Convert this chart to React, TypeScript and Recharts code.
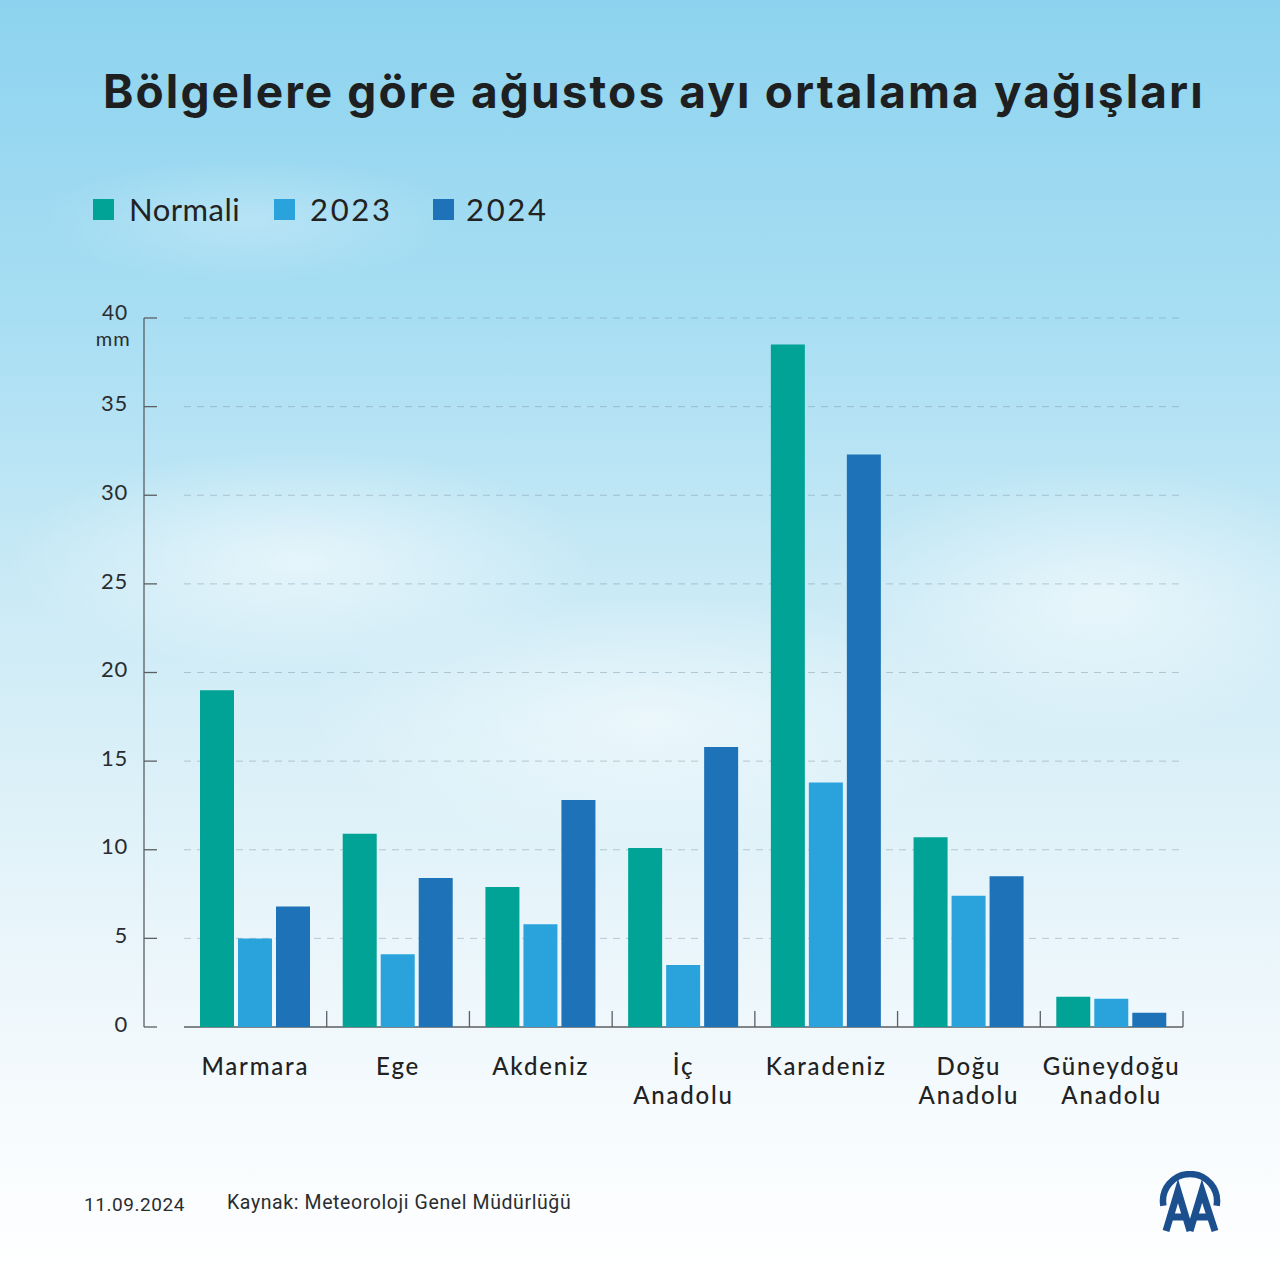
import React from "react";
import { Bar, BarChart, CartesianGrid, XAxis, YAxis } from "recharts";

const categories = [
  "Marmara",
  "Ege",
  "Akdeniz",
  "İç Anadolu",
  "Karadeniz",
  "Doğu Anadolu",
  "Güneydoğu Anadolu",
];
const normali = [19.0, 10.9, 7.9, 10.1, 38.5, 10.7, 1.7];
const y2023 = [5.0, 4.1, 5.8, 3.5, 13.8, 7.4, 1.6];
const y2024 = [6.8, 8.4, 12.8, 15.8, 32.3, 8.5, 0.8];
const yTicks = [0, 5, 10, 15, 20, 25, 30, 35, 40];

const series = [
  { key: "normali", name: "Normali", color: "#00A396" },
  { key: "y2023", name: "2023", color: "#2AA3DD" },
  { key: "y2024", name: "2024", color: "#1E72B8" },
];
const legendLeft = [93, 274, 433];

const data = categories.map((name, i) => ({
  name,
  normali: normali[i],
  y2023: y2023[i],
  y2024: y2024[i],
}));

const FONT = "Lato, 'Open Sans', sans-serif";
const PAD_LEFT = 40;

function YTick(props: any) {
  const { x, y, payload } = props;
  return (
    <g>
      <line x1={x} x2={x + 13} y1={y} y2={y} stroke="#5a5f63" strokeWidth={1.3} />
      <text
        x={x - 16}
        y={payload.value === 40 ? y - 5 : y - 3}
        dy="0.35em"
        textAnchor="end"
        fontSize={payload.value === 40 ? 21 : 22}
        letterSpacing={0.8}
        fill="#2a2d30"
        fontFamily={FONT}
      >
        {payload.value}
      </text>
      {payload.value === 40 && (
        <text
          x={x - 13}
          y={y + 21}
          dy="0.35em"
          textAnchor="end"
          fontSize={20}
          letterSpacing={1.2}
          fill="#2a2d30"
          fontFamily={FONT}
        >
          mm
        </text>
      )}
    </g>
  );
}

function XTick(props: any) {
  const { x, y, payload, width } = props;
  const band = ((width ?? 1039) - PAD_LEFT) / categories.length;
  const lines = String(payload.value).split(" ");
  return (
    <g>
      <line
        x1={x + band / 2}
        x2={x + band / 2}
        y1={y}
        y2={y - 16}
        stroke="#5a5f63"
        strokeWidth={1.3}
      />
      {lines.map((l, i) => (
        <text
          key={i}
          x={x}
          y={y + 40 + i * 29}
          dy="0.35em"
          textAnchor="middle"
          fontSize={24}
          letterSpacing={1.8}
          fontWeight={500}
          fill="#222"
          fontFamily={FONT}
        >
          {l}
        </text>
      ))}
    </g>
  );
}

function GridLine(props: any) {
  const { x1, x2, y1, y2, index, key } = props;
  const isBase = index === 0 || Math.abs(y1 - 1027) < 2;
  if (isBase) {
    return (
      <line
        key={key}
        x1={x1 + PAD_LEFT}
        x2={x2}
        y1={y1}
        y2={y2}
        stroke="#5a5f63"
        strokeWidth={1.3}
      />
    );
  }
  return (
    <line
      key={key}
      x1={x1 + PAD_LEFT}
      x2={x2 - 3}
      y1={y1}
      y2={y2}
      stroke="rgba(110,135,150,0.4)"
      strokeWidth={1}
      strokeDasharray="7 6"
    />
  );
}

function Logo() {
  const c = "#1B4F8E";
  return (
    <svg width={64} height={62} style={{ position: "absolute", left: 1159, top: 1171 }}>
      <path
        d="M 4.4,34.7 A 27 27 0 1 1 57.6,34.7"
        fill="none"
        stroke={c}
        strokeWidth={6.5}
      />
      <path
        d="M 7,60 L 19,20 L 31,60 M 12,46 L 26,46"
        fill="none"
        stroke={c}
        strokeWidth={7}
        strokeLinejoin="miter"
      />
      <path
        d="M 31,60 L 43,20 L 56,60 M 36,46 L 50,46"
        fill="none"
        stroke={c}
        strokeWidth={7}
        strokeLinejoin="miter"
      />
    </svg>
  );
}

export default function App() {
  return (
    <div
      style={{
        position: "absolute",
        left: 0,
        top: 0,
        width: 1280,
        height: 1280,
        overflow: "hidden",
        fontFamily: FONT,
        background:
          "radial-gradient(ellipse 420px 160px at 300px 560px, rgba(255,255,255,0.55), rgba(255,255,255,0) 70%)," +
          "radial-gradient(ellipse 380px 200px at 1100px 600px, rgba(255,255,255,0.55), rgba(255,255,255,0) 70%)," +
          "radial-gradient(ellipse 500px 180px at 650px 720px, rgba(255,255,255,0.5), rgba(255,255,255,0) 70%)," +
          "radial-gradient(ellipse 300px 90px at 250px 220px, rgba(255,255,255,0.25), rgba(255,255,255,0) 70%)," +
          "linear-gradient(180deg, #8dd3ef 0%, #a8def3 25%, #cdebf6 48%, #e6f4fa 70%, #f7fbfd 88%, #ffffff 100%)",
      }}
    >
      <div
        style={{
          position: "absolute",
          top: 63,
          left: 103,
          fontSize: 46,
          fontWeight: 700,
          color: "#1e1f21",
          fontFamily: "Inter, sans-serif",
          letterSpacing: 2.1,
          whiteSpace: "nowrap",
        }}
      >
        Bölgelere göre ağustos ayı ortalama yağışları
      </div>

      {series.map((s, i) => (
        <div
          key={s.key}
          style={{
            position: "absolute",
            top: 190,
            left: legendLeft[i],
            display: "flex",
            alignItems: "center",
          }}
        >
          <div
            style={{
              width: 21,
              height: 21,
              background: s.color,
              marginRight: i === 2 ? 12 : 15,
            }}
          />
          <span
            style={{
              fontSize: 31,
              color: "#222",
              letterSpacing: i === 0 ? 0.5 : 2.7,
            }}
          >
            {s.name}
          </span>
        </div>
      ))}

      <div style={{ position: "absolute", left: 0, top: 0 }}>
        <BarChart
          width={1280}
          height={1140}
          data={data}
          margin={{ top: 318, right: 97, bottom: 33, left: 0 }}
          barSize={34}
          barGap={4}
        >
          <CartesianGrid vertical={false} horizontal={(p: any) => <GridLine {...p} />} />
          <XAxis
            dataKey="name"
            axisLine={false}
            tickLine={false}
            tickSize={0}
            tickMargin={0}
            padding={{ left: PAD_LEFT, right: 0 }}
            height={80}
            interval={0}
            tick={<XTick />}
          />
          <YAxis
            domain={[0, 40]}
            ticks={yTicks}
            width={144}
            axisLine={{ stroke: "#5a5f63", strokeWidth: 1.3 }}
            tickLine={false}
            tickSize={0}
            tickMargin={0}
            tick={<YTick />}
            interval={0}
          />
          {series.map((s) => (
            <Bar
              key={s.key}
              dataKey={s.key}
              name={s.name}
              fill={s.color}
              isAnimationActive={false}
            />
          ))}
        </BarChart>
      </div>

      <div
        style={{
          position: "absolute",
          top: 1193,
          left: 84,
          fontSize: 19,
          color: "#2a2d30",
          fontFamily: "Roboto, sans-serif",
          letterSpacing: 0.55,
        }}
      >
        11.09.2024
      </div>
      <div
        style={{
          position: "absolute",
          top: 1191,
          left: 227,
          fontSize: 19.5,
          color: "#2a2d30",
          fontFamily: "Roboto, sans-serif",
          letterSpacing: 0.6,
        }}
      >
        Kaynak: Meteoroloji Genel Müdürlüğü
      </div>
      <Logo />
    </div>
  );
}
